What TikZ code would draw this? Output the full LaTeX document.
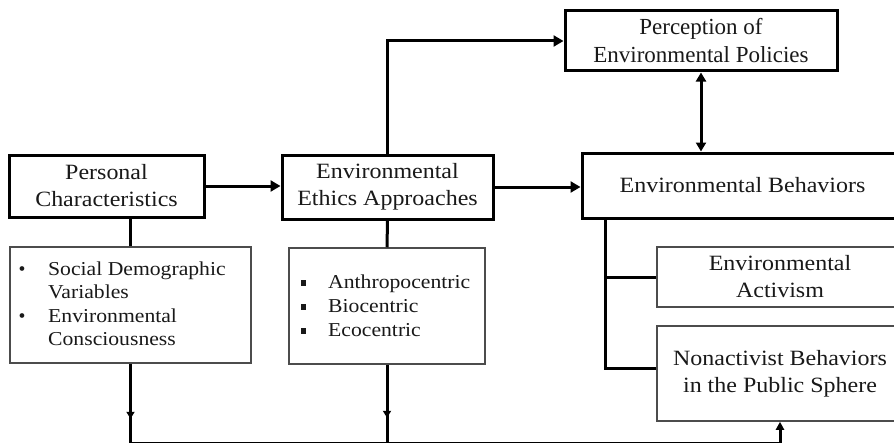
\documentclass[tikz,border=0pt]{standalone}
\usepackage{fontspec}
\setmainfont{Liberation Serif}
\newfontfamily\bodyfont[FakeStretch=1.1]{Liberation Serif}
\usetikzlibrary{arrows.meta,decorations.markings}

\begin{document}
\begin{tikzpicture}[x=1pt,y=-1pt,
  every node/.style={text=black!90},
  mainbox/.style={draw=black, line width=3pt, inner sep=0pt, align=center,
    font=\bodyfont\fontsize{21.8}{27}\selectfont},
  subbox/.style={draw=black!70, line width=1.5pt, inner sep=0pt, align=center,
    font=\bodyfont\fontsize{21.8}{27}\selectfont},
  listbox/.style={draw=black!70, line width=1.5pt, inner sep=0pt},
  item/.style={anchor=base west, inner sep=0pt,
    font=\bodyfont\fontsize{19.7}{23.5}\selectfont},
  dot/.style={anchor=base, inner sep=0pt, font=\fontsize{19.7}{23.5}\selectfont},
  conn/.style={line width=3pt},
  bus/.style={line width=1.8pt},
  tip/.style={-{Triangle[length=10pt,width=11pt]}},
  both/.style={{Triangle[length=9pt,width=10pt]}-{Triangle[length=9pt,width=10pt]}},
  midtip/.style={postaction={decorate}, decoration={markings,
    mark=at position #1 with {\arrow{Triangle[length=7pt,width=8pt]}}}}
]
\useasboundingbox (0,0) rectangle (894,444);
\fill[white] (0,0) rectangle (894,444);
\begin{scope}
\clip (0,0) rectangle (894,444);

% main boxes
\node[mainbox, minimum width=195pt, minimum height=62pt] (pers) at (106.5,186)
  {Personal\\Characteristics};
\node[mainbox, minimum width=211pt, minimum height=64pt] (eth) at (387.5,187)
  {Environmental\\Ethics Approaches};
\node[mainbox, minimum width=272pt, minimum height=60pt,
  font=\fontsize{23}{28}\selectfont] (perc) at (701,41)
  {Perception of\\Environmental Policies};
\node[mainbox, minimum width=321pt, minimum height=65pt] (envb) at (742.5,185.5)
  {Environmental Behaviors};

% detail boxes
\node[listbox, minimum width=241pt, minimum height=116pt] (lista) at (130.5,305) {};
\node[listbox, minimum width=196pt, minimum height=116pt] (listb) at (387,306) {};
\node[subbox, minimum width=246pt, minimum height=60pt] (act) at (780,277)
  {Environmental\\Activism};
\node[subbox, minimum width=246pt, minimum height=95pt] (nonact) at (780,373.5)
  {Nonactivist Behaviors\\in the Public Sphere};

% list of personal characteristics
\node[dot] (da) at (22,275) {•};
\node[item] (la1) at (48,275) {Social Demographic};
\node[item] (la2) at (48,298.5) {Variables};
\node[dot] (db) at (22,322) {•};
\node[item] (la3) at (48,322) {Environmental};
\node[item] (la4) at (48,345.5) {Consciousness};

% list of ethics approaches
\node[item] (lb1) at (328,288) {Anthropocentric};
\node[item] (lb2) at (328,312) {Biocentric};
\node[item] (lb3) at (328,336) {Ecocentric};
\foreach \yy in {285.5,309.5,333.5}
  \fill[black!90] (300.5,\yy) rectangle ++(5.5,-5.5);

% connectors between the main boxes
\draw[conn, tip] (pers.east) -- (pers.east -| eth.west);
\draw[conn, tip] (eth.east) -- (eth.east -| envb.west);
\draw[conn, tip] (eth.north) |- (perc.west);
\draw[conn, both] (perc.south) -- (perc.south |- envb.north);

% links to the detail boxes
\draw[conn] (lista.north) -- (lista.north |- pers.south);
\draw[conn] (listb.north) -- (eth.south);
\coordinate (trunk) at ([xshift=25pt]envb.south west);
\draw[conn] (trunk) |- ([yshift=5.5pt]nonact.west);
\draw[conn] (trunk |- act.west) -- (act.west);

% bottom feedback line
\coordinate (busL) at (130.5,442.5);
\coordinate (busR) at (780,442.5);
\draw[conn, midtip=55pt] (lista.south) -- (busL);
\draw[conn, midtip=53pt] (listb.south) -- (listb.south |- busL);
\draw[bus] (busL) -- (busR);
\draw[conn, -{Triangle[length=8pt,width=8pt]}] (busR) -- (nonact.south);
\end{scope}
\end{tikzpicture}
\end{document}
